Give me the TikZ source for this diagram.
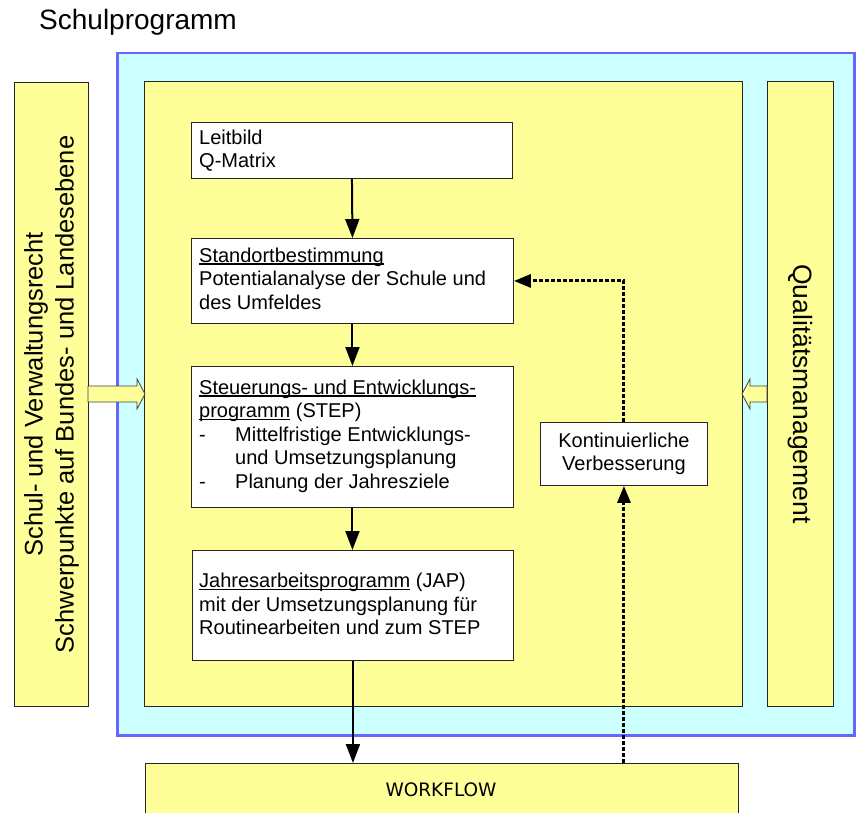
\documentclass[tikz,border=0pt]{standalone}
\usepackage{fontspec}
\setmainfont{Liberation Sans}
\newfontfamily\wffont{DejaVu Sans}
\usetikzlibrary{arrows.meta}
\definecolor{pyellow}{HTML}{FFFF99}
\definecolor{pcyan}{HTML}{CCFFFF}
\definecolor{pblue}{HTML}{6666FF}
\newcommand\ulx[1]{\setbox0\hbox{#1}\rlap{\rule[-2.4pt]{\wd0}{1.2pt}}\box0\relax}
\begin{document}
\begin{tikzpicture}[x=1pt,y=-1pt,
 ybox/.style={draw=black!85, fill=pyellow, line width=0.9pt, inner sep=0, anchor=north west},
 wbox/.style={draw=black!85, fill=white, line width=0.9pt, inner sep=0, anchor=north west},
 body/.style={font=\fontsize{20}{23.5}\selectfont, align=left, inner sep=0, anchor=north west},
 flow/.style={line width=2pt, -{Triangle[length=19pt,width=14pt]}},
 loop/.style={line width=3pt, dash pattern=on 4pt off 2pt, -{Triangle[length=17pt,width=13pt]}},
 blockarrow/.style={draw=black!75, fill=pyellow, line width=0.8pt, line join=miter}]
\useasboundingbox (0,0) rectangle (857,813);
\clip (0,0) rectangle (857,813);
\node[anchor=base west, inner sep=0, font=\fontsize{28}{32}\selectfont] (title) at (39,30) {Schulprogramm};
\node[draw=pblue, fill=pcyan, line width=2.5pt, minimum width=737, minimum height=682, inner sep=0, anchor=north west] (frame) at (116,52) {};
\node[ybox, minimum width=74, minimum height=624] (law) at (14,82) {};
\node[ybox, minimum width=598, minimum height=625] (core) at (144,81) {};
\node[ybox, minimum width=66, minimum height=625] (qm) at (767,81) {};
\node[wbox, minimum width=321, minimum height=56] (leit) at (191,122) {};
\node[wbox, minimum width=322, minimum height=85] (std) at (191,238) {};
\node[wbox, minimum width=322, minimum height=141] (step) at (191,366) {};
\node[wbox, minimum width=321, minimum height=110] (jap) at (192,550) {};
\node[wbox, minimum width=167, minimum height=63] (kv) at (540,422) {};
\node[ybox, minimum width=593, minimum height=80] (wf) at (145,763) {};
% block arrows
\draw[blockarrow] (88,386) -- (137,386) -- (137,379) -- (145,394) -- (137,409) -- (137,402) -- (88,402) -- cycle;
\draw[blockarrow] (767,386) -- (750,386) -- (750,379) -- (742,394) -- (750,409) -- (750,402) -- (767,402) -- cycle;
% texts
\node[body] (leitT) at (199,129.5) {Leitbild\\Q-Matrix};
\node[body] (stdT) at (199,247.5) {\ulx{Standortbestimmung}\\Potentialanalyse der Schule und\\des Umfeldes};
\node[body] (stepT) at (199,379.5) {\ulx{Steuerungs- und Entwicklungs-}\\\ulx{programm} (STEP)\\\makebox[36pt][l]{-}Mittelfristige Entwicklungs-\\\hspace*{36pt}und Umsetzungsplanung\\\makebox[36pt][l]{-}Planung der Jahresziele};
\node[body] (japT) at (199,573) {\ulx{Jahresarbeitsprogramm} (JAP)\\mit der Umsetzungsplanung für\\Routinearbeiten und zum STEP};
\node[font=\fontsize{20}{23.5}\selectfont, align=center, inner sep=0] (kvT) at (kv.center) {Kontinuierliche\\Verbesserung};
\node[font=\fontsize{25.5}{31}\selectfont, align=center, rotate=90, inner sep=0] (lawT) at (law.center) {Schul- und Verwaltungsrecht\\Schwerpunkte auf Bundes- und Landesebene};
\node[font=\fontsize{26.5}{31}\selectfont, rotate=-90, inner sep=0] (qmT) at (qm.center) {Qualitätsmanagement};
\node[font=\wffont\fontsize{18.5}{22}\selectfont, inner sep=0] (wfT) at (441,790) {WORKFLOW};
% connectors
\draw[flow] (leit.south) -- (std.north);
\draw[flow] (std.south) -- (step.north);
\draw[flow] (step.south) -- (step.south |- jap.north);
\draw[flow] (jap.south) -- (jap.south |- wf.north);
\draw[loop] (kv.south |- wf.north) -- (kv.south);
\draw[loop] (kv.north) |- (std.east);
\end{tikzpicture}
\end{document}
